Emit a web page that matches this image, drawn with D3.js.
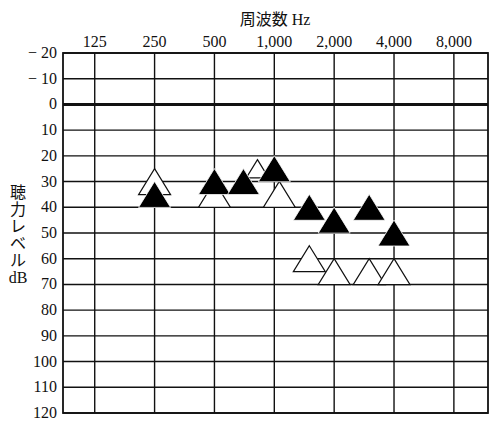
<!DOCTYPE html>
<html><head><meta charset="utf-8">
<script src="https://cdn.jsdelivr.net/npm/d3@7"></script>
<style>body{margin:0;background:#fff}text{font-family:"Liberation Serif","Noto Sans CJK JP",serif;fill:#111}</style>
</head><body><svg id="c" width="500" height="425"></svg>
<script>
const freqTicks = [125, 250, 500, 1000, 2000, 4000, 8000];
const freqLabels = ['125', '250', '500', '1,000', '2,000', '4,000', '8,000'];
const dbTicks = d3.range(-20, 121, 10);
const filledFreq = [250, 500, 750, 1000, 1500, 2000, 3000, 4000];
const filledDb = [35, 30, 30, 25, 40, 45, 40, 50];
const openFreq = [250, 500, 750, 1000, 1500, 2000, 3000, 4000];
const openDb = [30, 35, 25, 35, 60, 65, 65, 65];
const openSize = [1, 1, 0.7, 1, 1, 1, 1, 1];

const svg = d3.select('#c');
const x = d3.scaleLog().base(2).domain([125 / Math.pow(2, 0.53), 8000 * Math.pow(2, 0.57)]).range([63, 488]);
const y = d3.scaleLinear().domain([-20, 120]).range([53, 413]);

// grid
svg.selectAll('.h').data(dbTicks).enter().append('line')
  .attr('x1', 63).attr('x2', 488).attr('y1', (d) => y(d)).attr('y2', (d) => y(d))
  .attr('stroke', '#111').attr('stroke-width', (d) => (d === 0 ? 3 : 1.4));
svg.selectAll('.v').data(freqTicks).enter().append('line')
  .attr('x1', (d) => x(d)).attr('x2', (d) => x(d)).attr('y1', 53).attr('y2', 413)
  .attr('stroke', '#111').attr('stroke-width', 1.4);
svg.append('rect').attr('x', 63).attr('y', 53).attr('width', 425).attr('height', 360)
  .attr('fill', 'none').attr('stroke', '#111').attr('stroke-width', 1.8);

// labels
svg.selectAll('.fl').data(freqTicks).enter().append('text')
  .attr('x', (d) => x(d)).attr('y', 47).attr('text-anchor', 'middle').attr('font-size', 16)
  .text((d, i) => freqLabels[i]);
svg.selectAll('.dl').data(dbTicks).enter().append('text')
  .attr('x', 57).attr('y', (d) => y(d) + 5).attr('text-anchor', 'end').attr('font-size', 16)
  .text((d) => (d < 0 ? '− ' + (-d) : d));
svg.append('text').attr('x', 275).attr('y', 25).attr('text-anchor', 'middle').attr('font-size', 16)
  .text('周波数 Hz');
const yl = ['聴', '力', 'レ', 'ベ', 'ル', 'dB'];
svg.selectAll('.yl').data(yl).enter().append('text')
  .attr('x', 18).attr('y', (d, i) => 198 + i * 17).attr('text-anchor', 'middle').attr('font-size', 16)
  .text((d) => d);

const tri = (s) => `M0,${-13 * s}L${16 * s},${13 * s}L${-16 * s},${13 * s}Z`;
svg.selectAll('.o').data(openFreq).enter().append('path')
  .attr('transform', (d, i) => `translate(${x(d) + (d === 750 ? 8 : d === 1000 ? 5 : 0)},${y(openDb[i])})`)
  .attr('d', (d, i) => tri(openSize[i])).attr('fill', '#fff').attr('stroke', '#111').attr('stroke-width', 1.2);
svg.selectAll('.f').data(filledFreq).enter().append('path')
  .attr('transform', (d, i) => `translate(${x(d) - (d === 750 ? 6 : 0)},${y(filledDb[i])})`)
  .attr('d', tri(1)).attr('fill', '#000').attr('stroke', '#fff').attr('stroke-width', 0.8);
</script></body></html>
